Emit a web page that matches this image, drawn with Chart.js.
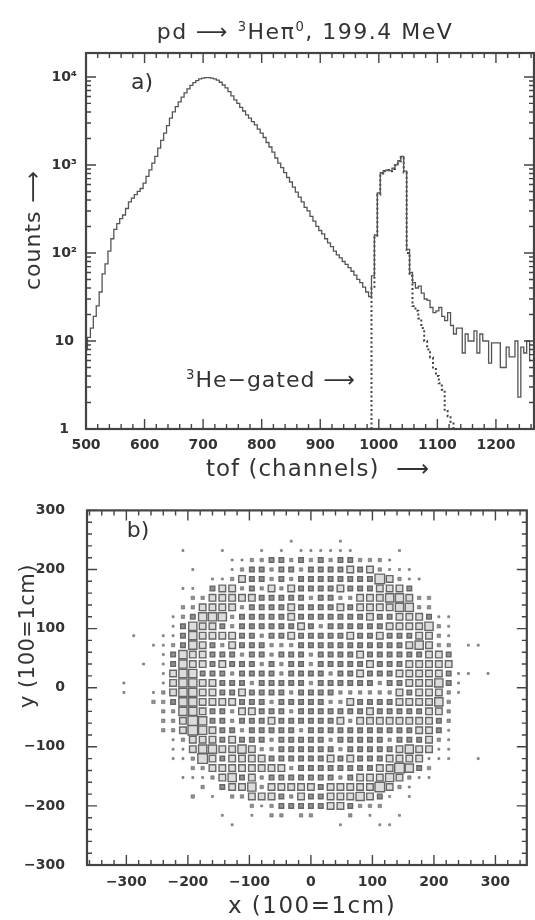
<!DOCTYPE html>
<html>
<head>
<meta charset="utf-8">
<script src="https://cdn.jsdelivr.net/npm/chart.js@4.4.0/dist/chart.umd.min.js"></script>
<style>
body { margin:0; background:#fff; width:535px; height:920px; position:relative; overflow:hidden; font-family:'DejaVu Sans', sans-serif; color:#333; }
canvas { position:absolute; left:0; }
#tofChart { top:0; }
#xyChart { top:480px; }
.lbl { position:absolute; white-space:nowrap; transform:translate(-50%,-50%); line-height:1; }
.rot { transform:translate(-50%,-50%) rotate(-90deg); }
sup { font-size:0.6em; vertical-align:0.6em; line-height:0; }
</style>
</head>
<body>
<canvas id="tofChart" width="535" height="480"></canvas>
<canvas id="xyChart" width="535" height="440"></canvas>

<div class="lbl" style="left:305px;top:32px;font-size:22px;letter-spacing:1.5px">pd &#10230; <sup>3</sup>He&pi;<sup>0</sup>, 199.4 MeV</div>
<div class="lbl" style="left:142px;top:82px;font-size:22px">a)</div>
<div class="lbl" style="left:271px;top:380px;font-size:22px;letter-spacing:1px"><sup>3</sup>He&minus;gated &#10230;</div>
<div class="lbl rot" style="left:33px;top:230px;font-size:22px;letter-spacing:1px">counts &#10230;</div>
<div class="lbl" style="left:318px;top:468px;font-size:23px;letter-spacing:1px">tof (channels) &nbsp;&#10230;</div>
<div class="lbl" style="left:138px;top:530px;font-size:22px">b)</div>
<div class="lbl rot" style="left:27px;top:636px;font-size:21px;letter-spacing:0.5px">y (100=1cm)</div>
<div class="lbl" style="left:312px;top:905px;font-size:23px;letter-spacing:1.5px">x (100=1cm)</div>

<script>
// panel a) : tof spectrum, 5-channel bins starting at 500
const tofStart = 500;
const tofBin = 5;
const allCounts = [
    8, 11, 14, 19, 25, 36, 58, 75, 105, 145,
    185, 215, 245, 270, 320, 380, 420, 460, 500, 540,
    620, 740, 880, 1050, 1250, 1550, 1900, 2300, 2800, 3400,
    4000, 4600, 5200, 5900, 6600, 7300, 8000, 8600, 9100, 9500,
    9700, 9800, 9800, 9700, 9500, 9200, 8700, 8100, 7500, 6800,
    6100, 5500, 5000, 4500, 4100, 3700, 3400, 3100, 2850, 2550,
    2300, 2050, 1800, 1600, 1400, 1200, 1050, 930, 820, 720,
    640, 560, 490, 430, 380, 330, 300, 260, 230, 200,
    180, 165, 145, 130, 118, 105, 95, 88, 80, 74,
    68, 62, 56, 50, 46, 41, 36, 32, 55, 160,
    480, 820, 860, 880, 860, 920, 1000, 1120, 1250, 850,
    110, 60, 46, 40, 42, 35, 30, 29, 24, 21,
    22, 24, 19, 17, 21, 15, 12, 14, 14, 7.3,
    12, 10, 10, 13, 7.3, 12, 10, 10, 5.6, 9.5,
    9.5, 9.5, 5, 5, 8.5, 6.6, 6.6, 10, 2.3, 8.5,
    7.3, 10, 6
];
// 3He-gated spectrum starts at channel 980
const gatedStart = 980;
const gatedCounts = [
    1, 1, 40, 150, 460, 800, 850, 870, 850, 900,
    990, 1100, 1230, 820, 100, 55, 25, 22, 18, 14,
    10, 8, 6.5, 5, 4, 3.3, 2.8, 1.6, 1.4, 1.2, 1
];
const tofTicks = [500, 600, 700, 800, 900, 1000, 1100, 1200];
const countTicks = [1, 10, 100, 1000, 10000];
const countLabels = ['1', '10', '10\u00b2', '10\u00b3', '10\u2074'];

// panel b) : hit map, box size class per cell (. = empty)
const xCenters = [-320,-304,-288,-272,-256,-240,-224,-208,-192,-176,-160,-144,-128,-112,-96,-80,-64,-48,-32,-16,0,16,32,48,64,80,96,112,128,144,160,176,192,208,224,240,256,272,288];
const yCenters = [248,232,216,200,184,168,152,136,120,104,88,72,56,40,24,8,-8,-24,-40,-56,-72,-88,-104,-120,-136,-152,-168,-184,-200,-216,-232];
const hitRows = [
    '..................1....1...............',
    '.......1...1...1.1.111111....1.........',
    '............11223323232332221..........',
    '........1...1233233233334342111........',
    '..........1124332323333333364211.......',
    '.......11.344232424333343334443........',
    '........2244444333332332244455422......',
    '.......22444423333433334344445522......',
    '......12355523333343333333433444311....',
    '......13544323333334323333334444521....',
    '..1..113544443323343333343343334421....',
    '....1123543243332223333333333345422.11.',
    '.....135443332332333233334333333443....',
    '...1.135443433323233233333433344444....',
    '.....14553332333323333233433344444311.1',
    '.1...1455443332333332333333233444531...',
    '.1..12455443343333233332222224344421...',
    '....2235544443332333332243333444452....',
    '.....225543324433323333333433333442....',
    '.....224653323334333333424444444432....',
    '.....224654332333332333333333334431....',
    '......12444343332333332333332333421....',
    '......11455445422333333233333454411....',
    '......11264344443333334343334444111..1.',
    '........2244444444233333333446532......',
    '.......11124534233333332344454211......',
    '.........2.34452444443444446421........',
    '........2.1.22444324334445431.1........',
    '..............21233333443222...........',
    '...........1..1.22.22...2.1..1.........',
    '............1..........1...11..........'
];
const xyTicks = [-300, -200, -100, 0, 100, 200, 300];
const xyLabels = ['\u2212300', '\u2212200', '\u2212100', '0', '100', '200', '300'];

const boxSide = [0, 2, 3.4, 4.6, 6.6, 8.2, 9.6];
const tickFont = { family: 'DejaVu Sans', size: 14, weight: 'bold' };
const axisColor = '#444';

// 안쪽 눈금 + 테두리
const innerTicks = {
    id: 'innerTicks',
    afterDatasetsDraw(chart, args, opts) {
        const { ctx, chartArea: a, scales } = chart;
        ctx.save();
        ctx.strokeStyle = axisColor;
        ctx.lineWidth = 1.4;
        ctx.beginPath();
        opts.x.forEach(([v, len]) => {
            const px = scales.x.getPixelForValue(v);
            ctx.moveTo(px, a.bottom); ctx.lineTo(px, a.bottom - len);
            ctx.moveTo(px, a.top); ctx.lineTo(px, a.top + len);
        });
        opts.y.forEach(([v, len]) => {
            const py = scales.y.getPixelForValue(v);
            ctx.moveTo(a.left, py); ctx.lineTo(a.left + len, py);
            ctx.moveTo(a.right, py); ctx.lineTo(a.right - len, py);
        });
        ctx.stroke();
        ctx.lineWidth = 2.2;
        ctx.strokeRect(a.left, a.top, a.right - a.left, a.bottom - a.top);
        ctx.restore();
    }
};

function linearTicks(min, max) {
    const out = [];
    for (let v = Math.ceil(min / 20) * 20; v <= max; v += 20) {
        out.push([v, v % 100 === 0 ? 10 : 5]);
    }
    return out;
}

function logTicks(max) {
    const out = [];
    for (let d = 1; d <= 10000; d *= 10) {
        for (let m = 1; m <= 9; m++) {
            if (m * d <= max) out.push([m * d, m === 1 ? 10 : 5]);
        }
    }
    return out;
}

function createTofChart() {
    const xMin = 500, xMax = 1265, yMax = 18700;
    const mainData = allCounts.map((c, i) => ({ x: tofStart + i * tofBin, y: c }));
    const gatedData = gatedCounts.map((c, i) => ({ x: gatedStart + i * tofBin, y: c }));

    new Chart(document.getElementById('tofChart'), {
        type: 'line',
        data: {
            datasets: [{
                data: mainData,
                borderColor: '#555',
                borderWidth: 1.3,
                stepped: 'middle',
                pointRadius: 0,
                fill: false
            }, {
                data: gatedData,
                borderColor: '#444',
                borderWidth: 2,
                borderDash: [2, 2.5],
                stepped: 'middle',
                pointRadius: 0,
                fill: false
            }]
        },
        options: {
            responsive: false,
            devicePixelRatio: 1,
            animation: false,
            events: [],
            layout: { padding: { top: 53, right: 1, left: 0, bottom: 0 } },
            plugins: {
                legend: { display: false },
                tooltip: { enabled: false },
                innerTicks: { x: linearTicks(xMin, xMax), y: logTicks(yMax) }
            },
            scales: {
                x: {
                    type: 'linear', min: xMin, max: xMax,
                    grid: { display: false, drawTicks: false },
                    border: { display: false },
                    afterBuildTicks: s => { s.ticks = tofTicks.map(v => ({ value: v })); },
                    ticks: { padding: 8, font: tickFont, color: '#333', maxRotation: 0, autoSkip: false,
                        callback: (v, i) => String(tofTicks[i]) },
                    afterFit: s => { s.height = 51; }
                },
                y: {
                    type: 'logarithmic', min: 1, max: yMax,
                    grid: { display: false, drawTicks: false },
                    border: { display: false },
                    afterBuildTicks: s => { s.ticks = countTicks.map(v => ({ value: v })); },
                    ticks: {
                        padding: 9, crossAlign: 'center', font: tickFont, color: '#333', autoSkip: false,
                        callback: (v, i) => countLabels[i]
                    },
                    afterFit: s => { s.width = 86; }
                }
            }
        },
        plugins: [innerTicks]
    });
}

function createHitMap() {
    const xMin = -364, xMax = 351;
    const cells = [];
    hitRows.forEach((row, r) => {
        for (let k = 0; k < Math.min(row.length, xCenters.length); k++) {
            const lvl = row[k] === '.' ? 0 : Number(row[k]);
            if (lvl > 0) cells.push({ x: xCenters[k], y: yCenters[r], lvl: lvl });
        }
    });

    new Chart(document.getElementById('xyChart'), {
        type: 'scatter',
        data: {
            datasets: [{
                data: cells,
                pointStyle: 'rect',
                pointRadius: c => boxSide[c.raw.lvl] * Math.SQRT1_2,
                pointBackgroundColor: c => c.raw.lvl <= 3 ? '#929292' : '#dcdcdc',
                pointBorderColor: '#666',
                pointBorderWidth: c => c.raw.lvl <= 2 ? 0.6 : 1.4
            }]
        },
        options: {
            responsive: false,
            devicePixelRatio: 1,
            animation: false,
            events: [],
            layout: { padding: { top: 10, right: 5, left: 0, bottom: 0 } },
            plugins: {
                legend: { display: false },
                tooltip: { enabled: false },
                innerTicks: { x: linearTicks(xMin, xMax), y: linearTicks(-300, 300) }
            },
            scales: {
                x: {
                    type: 'linear', min: xMin, max: xMax,
                    grid: { display: false, drawTicks: false },
                    border: { display: false },
                    afterBuildTicks: s => { s.ticks = xyTicks.map(v => ({ value: v })); },
                    ticks: { padding: 9, font: tickFont, color: '#333', maxRotation: 0, autoSkip: false,
                        callback: (v, i) => xyLabels[i] },
                    afterFit: s => { s.height = 55; }
                },
                y: {
                    type: 'linear', min: -300, max: 300,
                    grid: { display: false, drawTicks: false },
                    border: { display: false },
                    afterBuildTicks: s => { s.ticks = xyTicks.map(v => ({ value: v })); },
                    ticks: { padding: 22, font: tickFont, color: '#333', autoSkip: false,
                        callback: (v, i) => xyLabels[i] },
                    afterFit: s => { s.width = 87; }
                }
            }
        },
        plugins: [innerTicks]
    });
}

document.addEventListener('DOMContentLoaded', function() {
    createTofChart();
    createHitMap();
});
</script>
</body>
</html>
